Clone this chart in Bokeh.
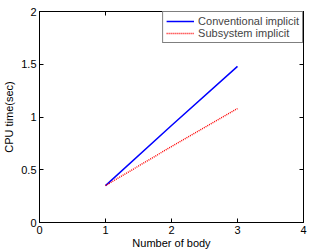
from bokeh.plotting import figure
from bokeh.models import LinearAxis, Range1d, FixedTicker, Legend, LegendItem
from bokeh.embed import file_html
from bokeh.resources import INLINE

# CPU time versus number of bodies for the two integration schemes
bodies = [1, 2, 3]
conventional = [0.35, 0.92, 1.48]
subsystem = [0.35, 0.72, 1.08]

x_ticks = [0, 1, 2, 3, 4]
y_ticks = [0, 0.5, 1, 1.5, 2]

FONT = "Liberation Sans"

p = figure(width=309, height=251, output_backend="svg", toolbar_location=None,
           x_range=Range1d(0, 4), y_range=Range1d(0, 2),
           min_border_left=36, min_border_right=6, min_border_top=11, min_border_bottom=26,
           x_axis_location=None, y_axis_location=None)

p.xgrid.visible = False
p.ygrid.visible = False
p.outline_line_color = "black"
p.outline_line_width = 1
p.background_fill_color = "white"
p.border_fill_color = "white"

def style(ax, show_labels):
    ax.axis_line_color = "black"
    ax.major_tick_in = 4
    ax.major_tick_out = 0
    ax.minor_tick_line_color = None
    ax.major_label_text_font = FONT
    ax.major_label_text_font_size = "11px"
    ax.major_label_text_color = "black" if show_labels else None
    ax.axis_label_text_font = FONT
    ax.axis_label_text_font_size = "11px"
    ax.axis_label_text_font_style = "normal"
    ax.axis_label_text_color = "black"

bottom = LinearAxis(ticker=FixedTicker(ticks=x_ticks), axis_label="Number of body")
style(bottom, True)
bottom.major_label_standoff = 3
bottom.axis_label_standoff = 0
left = LinearAxis(ticker=FixedTicker(ticks=y_ticks), axis_label="CPU time(sec)")
style(left, True)
left.major_label_standoff = 3
left.axis_label_standoff = 3
top = LinearAxis(ticker=FixedTicker(ticks=x_ticks))
style(top, False)
right = LinearAxis(ticker=FixedTicker(ticks=y_ticks))
style(right, False)
for ax in (top, right):
    ax.major_label_standoff = 0

p.add_layout(bottom, "below")
p.add_layout(left, "left")
p.add_layout(top, "above")
p.add_layout(right, "right")

r1 = p.line(bodies, conventional, line_color="#0000ff", line_width=1.5)
r2 = p.line(bodies, subsystem, line_color="#ff0000", line_width=1.4, line_dash="1 1")

legend = Legend(items=[LegendItem(label="Conventional implicit", renderers=[r1]),
                       LegendItem(label="Subsystem implicit", renderers=[r2])],
                location="top_right", margin=0, padding=3, spacing=0,
                glyph_width=28, glyph_height=12, label_height=12, label_standoff=4,
                label_text_font=FONT, label_text_font_size="11px",
                border_line_color="black", border_line_width=1,
                background_fill_alpha=1)
p.add_layout(legend)

open("out.html", "w").write(file_html(p, INLINE))
